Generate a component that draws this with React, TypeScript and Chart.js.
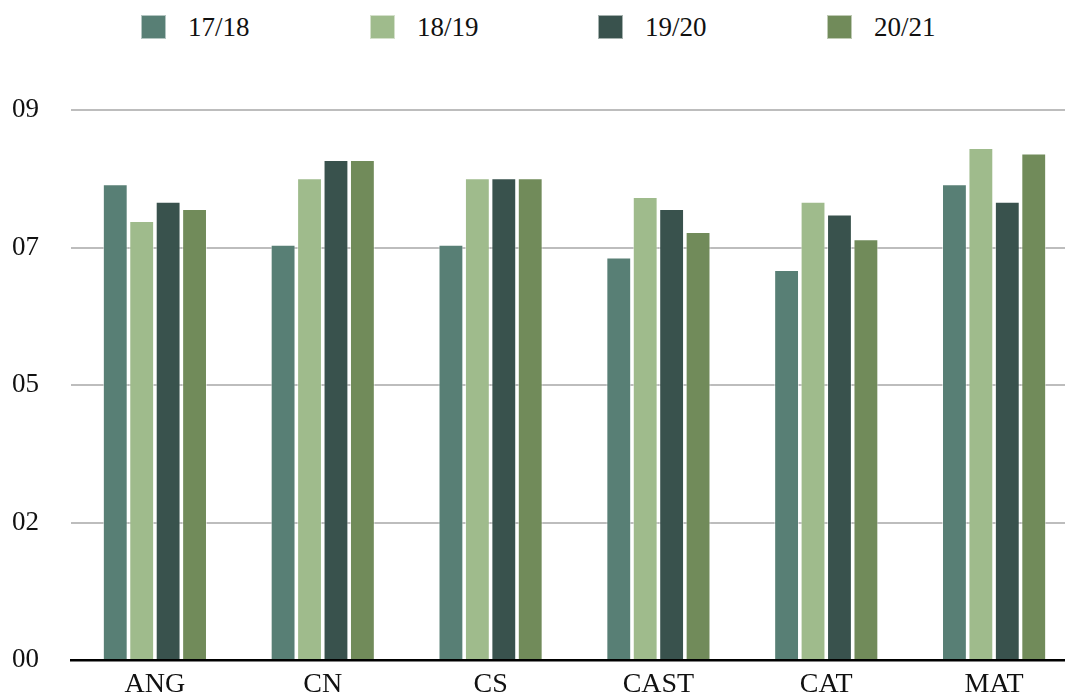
import React, { useEffect, useRef } from "react";
import { Chart, registerables } from "chart.js";

Chart.register(...registerables);

const categories = ["ANG", "CN", "CS", "CAST", "CAT", "MAT"];
const seriesNames = ["17/18", "18/19", "19/20", "20/21"];
const s1718 = [8.65, 7.55, 7.55, 7.32, 7.09, 8.65];
const s1819 = [7.98, 8.76, 8.76, 8.42, 8.33, 9.31];
const s1920 = [8.33, 9.09, 8.76, 8.2, 8.1, 8.33];
const s2021 = [8.2, 9.09, 8.76, 7.78, 7.65, 9.21];
const yTickLabels = ["00", "02", "05", "07", "09"];
const colors = ["#587f75", "#9fbb8c", "#39524d", "#718b5a"];
const legendLefts = [141, 370, 598, 827];

const FONT = "'Liberation Serif', 'Times New Roman', serif";

export default function App() {
  const ref = useRef<HTMLCanvasElement | null>(null);

  useEffect(() => {
    document.body.style.margin = "0";
    const values = [s1718, s1819, s1920, s2021];
    const chart = new Chart(ref.current as HTMLCanvasElement, {
      type: "bar",
      data: {
        labels: categories,
        datasets: seriesNames.map((name, i) => ({
          label: name,
          data: values[i],
          backgroundColor: colors[i],
          borderColor: "rgba(255,255,255,0.55)",
          borderWidth: 1,
          categoryPercentage: 0.63,
          barPercentage: 0.94,
        })),
      },
      options: {
        animation: false,
        responsive: false,
        maintainAspectRatio: false,
        devicePixelRatio: 1,
        layout: { padding: { top: 110, left: 12, right: 0, bottom: 0 } },
        plugins: {
          legend: { display: false },
          tooltip: { enabled: false },
        },
        scales: {
          x: {
            grid: { display: false, drawTicks: false },
            border: { display: true, color: "#000", width: 2.5 },
            ticks: {
              color: "#111",
              font: { family: FONT, size: 28 },
              padding: 8,
            },
            afterFit: (scale: any) => {
              scale.height = 38;
            },
          },
          y: {
            min: 0,
            max: 10,
            grid: { color: "#bdbdbd", lineWidth: 2, drawTicks: false },
            border: { display: false },
            ticks: {
              stepSize: 2.5,
              color: "#111",
              font: { family: FONT, size: 27 },
              padding: 0,
              crossAlign: "far",
              callback: (_v: any, idx: number) => yTickLabels[idx],
            },
            afterFit: (scale: any) => {
              scale.width = 59;
            },
          },
        },
      },
    });
    return () => chart.destroy();
  }, []);

  return (
    <div
      style={{
        position: "relative",
        width: 1065,
        height: 698,
        overflow: "hidden",
        background: "#fff",
      }}
    >
      {seriesNames.map((name, i) => (
        <div key={name}>
          <div
            style={{
              position: "absolute",
              left: legendLefts[i],
              top: 15,
              width: 25,
              height: 24,
              background: colors[i],
              boxSizing: "border-box",
              border: "1px solid rgba(255,255,255,0.55)",
            }}
          />
          <div
            style={{
              position: "absolute",
              left: legendLefts[i] + 47,
              top: 14,
              fontFamily: FONT,
              fontSize: 27,
              lineHeight: "26px",
              color: "#111",
              whiteSpace: "nowrap",
            }}
          >
            {name}
          </div>
        </div>
      ))}
      <canvas
        ref={ref}
        width={1078}
        height={698}
        style={{ position: "absolute", left: 0, top: 0, width: 1078, height: 698 }}
      />
    </div>
  );
}
